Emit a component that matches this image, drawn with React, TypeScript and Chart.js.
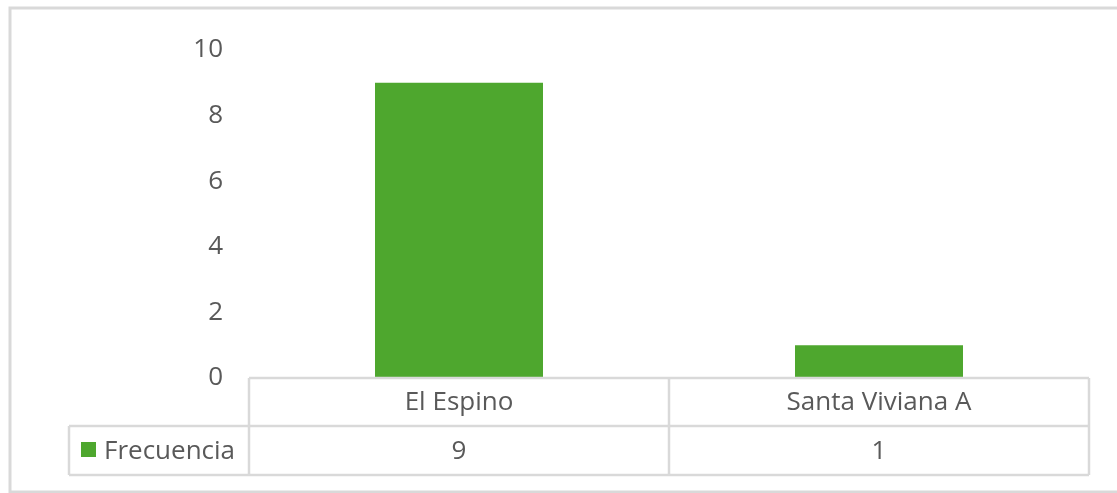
import React, { useEffect, useRef } from "react";
import { Chart, registerables } from "chart.js";

Chart.register(...registerables);

const categories: string[] = ["El Espino", "Santa Viviana A"];
const frecuencia: number[] = [9, 1];
const seriesName = "Frecuencia";
const yTicks: number[] = [0, 2, 4, 6, 8, 10];

const GREEN = "#4EA72E";
const TEXT = "#595959";
const LINE = "#d9d9d9";
const FONT = "'Open Sans', sans-serif";

const tablePlugin = {
  id: "dataTable",
  afterDraw(chart: any) {
    const ctx = chart.ctx;
    const area = chart.chartArea;
    const xs = chart.scales.x;
    const left = area.left;
    const right = area.right;
    const top = area.bottom;
    const rowH1 = 48;
    const rowH2 = 49;
    const mid = top + rowH1;
    const bottom = mid + rowH2;
    const legendLeft = 69;
    ctx.save();
    // outer border of chart
    ctx.strokeStyle = LINE;
    ctx.lineWidth = 3;
    ctx.strokeRect(10, 8, 1200, 484);

    ctx.lineWidth = 2.5;
    ctx.strokeStyle = LINE;
    ctx.beginPath();
    // header row top
    ctx.moveTo(left, top);
    ctx.lineTo(right, top);
    // mid line
    ctx.moveTo(legendLeft, mid);
    ctx.lineTo(right, mid);
    // bottom
    ctx.moveTo(legendLeft, bottom);
    ctx.lineTo(right, bottom);
    // verticals
    ctx.moveTo(legendLeft, mid);
    ctx.lineTo(legendLeft, bottom);
    ctx.moveTo(left, top);
    ctx.lineTo(left, bottom);
    ctx.moveTo(right, top);
    ctx.lineTo(right, bottom);
    const n = categories.length;
    const colW = (right - left) / n;
    for (let i = 1; i < n; i++) {
      const x = left + colW * i;
      ctx.moveTo(x, top);
      ctx.lineTo(x, bottom);
    }
    ctx.stroke();

    ctx.fillStyle = TEXT;
    ctx.font = `26px ${FONT}`;
    ctx.textAlign = "center";
    ctx.textBaseline = "middle";
    categories.forEach((c, i) => {
      const cx = xs.getPixelForValue(i);
      ctx.fillText(c, cx, top + rowH1 / 2 + 1);
      ctx.fillText(String(frecuencia[i]), cx, mid + rowH2 / 2 + 1);
    });
    // legend cell
    ctx.fillStyle = GREEN;
    ctx.fillRect(81, mid + 16, 15, 15);
    ctx.fillStyle = TEXT;
    ctx.textAlign = "left";
    ctx.fillText(seriesName, 104, mid + rowH2 / 2 + 1);
    ctx.restore();
  },
};

export default function App() {
  const ref = useRef<HTMLCanvasElement | null>(null);
  useEffect(() => {
    document.body.style.margin = "0";
    const canvas = ref.current;
    if (!canvas) return;
    const chart = new Chart(canvas, {
      type: "bar",
      data: {
        labels: categories,
        datasets: [
          {
            label: seriesName,
            data: frecuencia,
            backgroundColor: GREEN,
            borderWidth: 0,
            categoryPercentage: 1,
            barPercentage: 0.4,
          },
        ],
      },
      options: {
        animation: false,
        responsive: false,
        maintainAspectRatio: false,
        layout: { padding: { top: 50, right: 28, bottom: 115, left: 0 } },
        plugins: {
          legend: { display: false },
          tooltip: { enabled: false },
          title: { display: false },
        },
        scales: {
          x: {
            display: false,
          },
          y: {
            min: 0,
            max: 10,
            afterFit: (s: any) => {
              s.width = 249;
            },
            afterBuildTicks: (s: any) => {
              s.ticks = yTicks.map((v) => ({ value: v }));
            },
            grid: { display: false, drawTicks: false },
            border: { display: false },
            ticks: {
              padding: 26,
              color: TEXT,
              font: { family: FONT, size: 26 },
            },
          },
        },
      },
      plugins: [tablePlugin],
    });
    return () => chart.destroy();
  }, []);
  return (
    <div style={{ position: "fixed", left: 0, top: 0, width: 1117, height: 493, background: "#fff" }}>
      <canvas ref={ref} width={1117} height={493} style={{ width: 1117, height: 493 }} />
    </div>
  );
}
